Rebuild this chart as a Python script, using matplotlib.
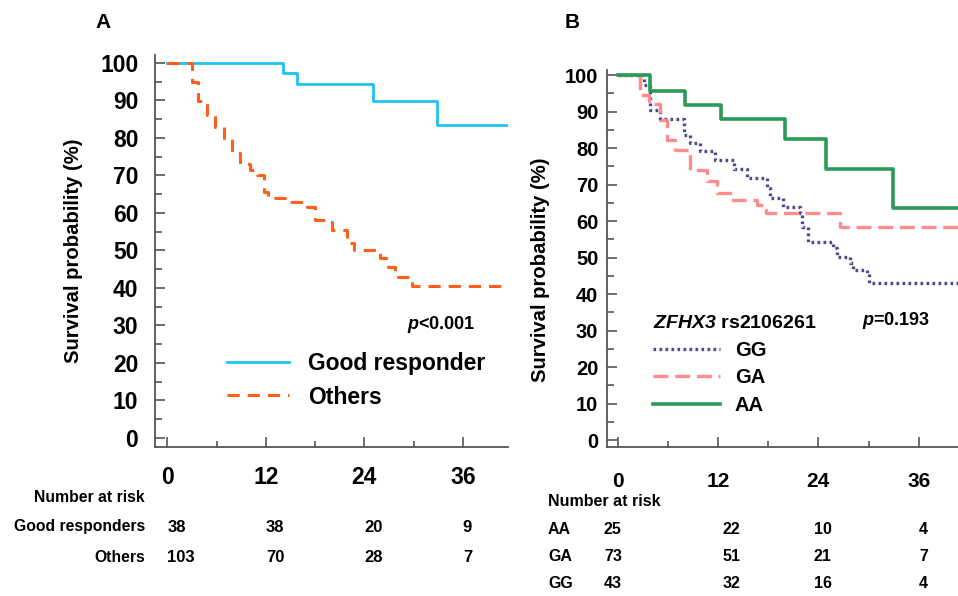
import matplotlib
matplotlib.use('Agg')
import matplotlib.pyplot as plt
from matplotlib.lines import Line2D
from matplotlib.ticker import MultipleLocator
from matplotlib.transforms import blended_transform_factory

plt.rcParams['font.family'] = ['Liberation Sans', 'DejaVu Sans']
plt.rcParams['mathtext.fontset'] = 'custom'
plt.rcParams['mathtext.rm'] = 'Liberation Sans'
plt.rcParams['mathtext.it'] = 'Liberation Sans:italic'
plt.rcParams['mathtext.bf'] = 'Liberation Sans:bold'
plt.rcParams['mathtext.bfit'] = 'Liberation Sans:bold:italic'

# panel A: good responders vs others (months, survival %)
good_t = [0, 14.1, 15.8, 25.0, 32.8, 42]
good_s = [100, 97.2, 94.3, 89.8, 83.5, 83.5]
others_t = [0, 3.0, 3.7, 4.8, 5.8, 6.85, 7.9, 8.9, 10.1, 10.9, 11.8, 12.3, 14.6,
            17.0, 18.0, 20.0, 21.9, 22.7, 25.9, 26.9, 27.7, 29.8, 42]
others_s = [100, 95.0, 89.8, 86.0, 83.0, 80.0, 76.0, 73.0, 71.5, 70.0, 65.5, 64.0, 63.0,
            61.5, 58.0, 55.5, 52.0, 50.0, 48.0, 45.5, 43.0, 40.5, 40.5]

# panel B: ZFHX3 rs2106261 genotypes
aa_t = [0, 3.9, 8.1, 12.35, 20.0, 24.9, 32.9, 41]
aa_s = [100, 95.7, 91.8, 87.9, 82.4, 74.2, 63.5, 63.5]
ga_t = [0, 2.7, 3.7, 5.1, 5.9, 6.9, 8.7, 10.7, 11.9, 13.8, 16.7, 17.8, 26.6, 41]
ga_s = [100, 94.5, 92.2, 87.7, 82.2, 79.6, 74.0, 71.0, 67.6, 65.8, 64.4, 62.1, 58.4, 58.4]
gg_t = [0, 3.1, 3.9, 5.1, 7.9, 8.7, 9.9, 11.7, 13.9, 15.5, 17.9, 18.2, 19.8, 21.8, 22.0,
        22.8, 25.8, 26.2, 27.8, 28.2, 29.8, 30.0, 41]
gg_s = [100, 97.3, 90.4, 88.1, 83.6, 81.3, 79.3, 76.7, 74.4, 71.7, 69.0, 66.2, 63.9, 62.1, 58.5,
        54.3, 52.5, 50.2, 48.4, 46.6, 45.7, 42.9, 42.9]

risk_times = [0, 12, 24, 36]
risk_a_rows = ['Good responders', 'Others']
risk_a = [[38, 38, 20, 9], [103, 70, 28, 7]]
risk_b_rows = ['AA', 'GA', 'GG']
risk_b = [[25, 22, 10, 4], [73, 51, 21, 7], [43, 32, 16, 4]]

W, H = 958, 596
fig = plt.figure(figsize=(W / 100, H / 100), dpi=100)


def px_axes(l, t, r, b):
    return fig.add_axes([l / W, 1 - b / H, (r - l) / W, (b - t) / H])


def style_axes(ax, ylab_size, tick_size, xtick_size, ypad, xpad):
    for s in ['top', 'right']:
        ax.spines[s].set_visible(False)
    for s in ['left', 'bottom']:
        ax.spines[s].set_color('#555555')
        ax.spines[s].set_linewidth(1.3)
    ax.set_yticks(range(0, 101, 10))
    ax.yaxis.set_minor_locator(MultipleLocator(5))
    ax.set_xticks([0, 12, 24, 36])
    ax.xaxis.set_minor_locator(MultipleLocator(6))
    ax.tick_params(which='both', direction='in', color='#555555', width=1.2)
    ax.tick_params(axis='y', which='major', length=7, pad=ypad, labelsize=tick_size)
    ax.tick_params(axis='y', which='minor', length=5)
    ax.tick_params(axis='x', which='major', length=7, pad=xpad, labelsize=xtick_size)
    ax.tick_params(axis='x', which='minor', length=4)
    for lab in ax.get_xticklabels() + ax.get_yticklabels():
        lab.set_fontweight('bold')
    ax.set_ylabel('Survival probability (%)', fontsize=ylab_size, fontweight='bold')


# ---------- panel A ----------
axA = px_axes(155, 55, 508, 447)
axA.step(good_t, good_s, where='post', color='#1ec3f2', lw=2.0)
axA.step(others_t, others_s, where='post', color='#ff5f1a', lw=2.2,
         linestyle=(0, (4, 2.6)))
axA.set_xlim(-1.5, 41.5)
axA.set_ylim(-2.4, 102.1)
style_axes(axA, 14.6, 16.5, 16.5, 12, 14)
axA.yaxis.set_label_coords(-0.205, 0.5)
axA.text(0.715, 0.30, r'$\mathbfit{p}$<0.001', transform=axA.transAxes, fontsize=13,
         fontweight='bold')
hA = [Line2D([], [], color='#1ec3f2', lw=2.0),
      Line2D([], [], color='#ff5f1a', lw=2.2, linestyle=(0, (4, 2.6)))]
axA.legend(hA, ['Good responder', 'Others'], loc='center left',
           bbox_to_anchor=(0.203, 0.17), frameon=False,
           prop={'size': 16.5, 'weight': 'bold'},
           handlelength=2.7, handletextpad=0.85, labelspacing=0.45,
           borderpad=0, borderaxespad=0)
fig.text(103 / W, 1 - 23 / H, 'A', fontsize=15, fontweight='bold', ha='center', va='center')

trA = blended_transform_factory(axA.transData, fig.transFigure)
fig.text(145 / W, 1 - 498 / H, 'Number at risk', fontsize=11.3, fontweight='bold',
         ha='right', va='center')
for i, row in enumerate(risk_a_rows):
    yy = 1 - (527 + 30 * i) / H
    fig.text(145 / W, yy, row, fontsize=11.3, fontweight='bold', ha='right', va='center')
    for t, n in zip(risk_times, risk_a[i]):
        axA.text(t, yy, str(n), transform=trA, fontsize=12, fontweight='bold',
                 ha='left', va='center')

# ---------- panel B ----------
axB = px_axes(606.7, 70, 958, 447.3)
ls_gg = (0, (0.8, 1.0))
ls_ga = (0, (4.5, 2.0))
axB.step(gg_t, gg_s, where='post', color='#4a4a8c', lw=2.4, linestyle=ls_gg)
axB.step(ga_t, ga_s, where='post', color='#ff8c8c', lw=2.4, linestyle=ls_ga)
axB.step(aa_t, aa_s, where='post', color='#2a9a58', lw=2.6)
axB.set_xlim(-1.3, 40.7)
axB.set_ylim(-2.0, 101.4)
style_axes(axB, 14.6, 14.5, 15, 6, 18)
axB.yaxis.set_label_coords(-0.16, 0.47)
axB.text(0.728, 0.325, r'$\mathbfit{p}$=0.193', transform=axB.transAxes, fontsize=13,
         fontweight='bold')
hB = [Line2D([], [], color='#4a4a8c', lw=2.4, linestyle=ls_gg),
      Line2D([], [], color='#ff8c8c', lw=2.4, linestyle=ls_ga),
      Line2D([], [], color='#2a9a58', lw=2.6)]
legB = axB.legend(hB, ['GG', 'GA', 'AA'], loc='upper left',
                  bbox_to_anchor=(0.132, 0.35), frameon=False,
                  prop={'size': 14.5, 'weight': 'bold'},
                  title=r'$\mathbfit{ZFHX3}$ rs2106261',
                  title_fontproperties={'size': 14, 'weight': 'bold'},
                  alignment='left', handlelength=3.3, handletextpad=0.75,
                  labelspacing=0.42, borderpad=0, borderaxespad=0)
fig.text(571.7 / W, 1 - 23 / H, 'B', fontsize=15, fontweight='bold', ha='center', va='center')

trB = blended_transform_factory(axB.transData, fig.transFigure)
risk_b_x = [0.5, 14.7, 25.6, 37.1]
fig.text(548 / W, 1 - 502 / H, 'Number at risk', fontsize=11.5, fontweight='bold',
         ha='left', va='center')
for i, row in enumerate(risk_b_rows):
    yy = 1 - (530 + 26.5 * i) / H
    fig.text(548 / W, yy, row, fontsize=11.5, fontweight='bold', ha='left', va='center')
    for t, n in zip(risk_b_x, risk_b[i]):
        axB.text(t, yy, str(n), transform=trB, fontsize=11.5, fontweight='bold',
                 ha='right', va='center')

fig.savefig('out.png', dpi=100)
